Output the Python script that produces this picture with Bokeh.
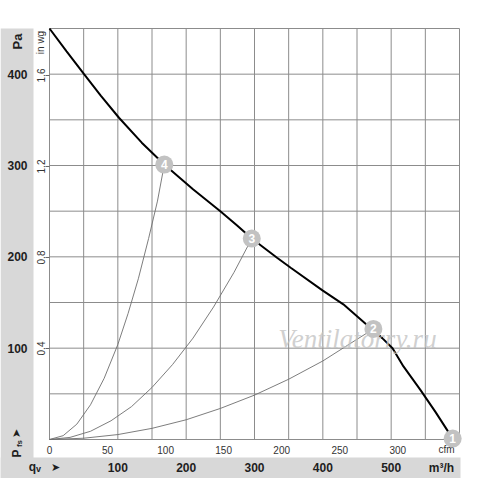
import math
from bokeh.plotting import figure
from bokeh.models import Range1d
from bokeh.core.properties import value
from bokeh.embed import file_html
from bokeh.resources import INLINE

# ---------------- data ----------------
# fan characteristic: flow in m3/h, static pressure in Pa
fan_q = [0, 25, 50, 75, 102, 135, 168, 210, 250, 275, 296, 333, 353, 400, 430, 473,
         487, 502, 518, 543, 565, 590]
fan_p = [450, 425, 400.5, 376.5, 352, 325, 301, 274, 250, 234, 220, 199, 188, 163, 148, 120,
         111, 100, 80, 54, 30, 1]

# system (throttle) curves through the operating points
sys4_q = [0, 20, 40, 60, 80, 100, 115, 130, 145, 158, 168]
sys4_p = [0, 4.2, 16.8, 38, 67, 104, 138, 176, 220, 261, 301]
sys3_q = [0, 30, 60, 90, 120, 150, 180, 210, 240, 270, 296]
sys3_p = [0, 2.3, 9, 20.5, 36, 57, 82, 111, 145, 183, 220]
sys2_q = [0, 50, 100, 150, 200, 250, 300, 350, 400, 440, 474]
sys2_p = [0, 1.4, 5.4, 12.2, 21.6, 34, 48.6, 66, 86, 105, 121]

# operating points
point_q = [590, 474, 296, 168]
point_p = [1, 121, 220, 301]
point_label = ["1", "2", "3", "4"]

# axes / ticks
grid_q = [0, 50, 100, 150, 200, 250, 300, 350, 400, 450, 500, 550, 600]
grid_p = [0, 50, 100, 150, 200, 250, 300, 350, 400, 450]
pa_ticks = [100, 200, 300, 400]
inwg_ticks = [0.4, 0.8, 1.2, 1.6]
cfm_ticks = [0, 50, 100, 150, 200, 250, 300]
m3h_ticks = [100, 200, 300, 400, 500]

PA_PER_INWG = 249.09
M3H_PER_CFM = 1.69901

# ---------------- layout helpers (picture pixels -> data) ----------------
SX = 410 / 600.0   # px per m3/h
SY = 411 / 450.0   # px per Pa
def qx(px):
    return (px - 49) / SX
def py(pyy):
    return (439 - pyy) / SY

p = figure(width=500, height=478,
           x_range=Range1d(qx(0), qx(500)), y_range=Range1d(py(478), py(0)),
           x_axis_type=None, y_axis_type=None,
           output_backend="svg", toolbar_location=None, min_border=0)
p.outline_line_color = None
p.background_fill_color = "white"
p.border_fill_color = "white"

GRAY = "#d8d8d8"
# grey label strips
p.quad(left=[qx(0)], right=[qx(33)], bottom=[py(478)], top=[py(28)],
       fill_color=GRAY, line_color=None)
p.quad(left=[qx(0)], right=[qx(460)], bottom=[py(478)], top=[py(457)],
       fill_color=GRAY, line_color=None)

# grid
GC = "#8c8c8c"
p.segment(x0=grid_q, x1=grid_q, y0=[grid_p[0]] * len(grid_q), y1=[grid_p[-1]] * len(grid_q),
          line_color=GC, line_width=1)
p.segment(x0=[grid_q[0]] * len(grid_p), x1=[grid_q[-1]] * len(grid_p), y0=grid_p, y1=grid_p,
          line_color=GC, line_width=1)

# in wg small ticks
inwg_pa = [v * PA_PER_INWG for v in inwg_ticks]
p.segment(x0=[qx(45)] * len(inwg_pa), x1=[0] * len(inwg_pa), y0=inwg_pa, y1=inwg_pa,
          line_color="#666666", line_width=1)

# system curves
for qs, ps in ((sys4_q, sys4_p), (sys3_q, sys3_p), (sys2_q, sys2_p)):
    p.line(qs, ps, line_color="#6e6e6e", line_width=0.9)

# fan curve
p.line(fan_q, fan_p, line_color="black", line_width=2)

# watermark
p.text(x=[qx(357)], y=[py(338)], text=["Ventilatorry.ru"], text_align="center",
       text_baseline="middle", text_font=value("Liberation Serif"),
       text_font_style="italic", text_font_size="27px", text_color="#c4c4c4", text_alpha=0.8)

FONT = value("Liberation Sans")
DARK = "#1e1e1e"

# cfm axis
cfm_q = [c * M3H_PER_CFM for c in cfm_ticks]
p.text(x=cfm_q, y=[0] * len(cfm_q), text=[str(c) for c in cfm_ticks], y_offset=10,
       text_align="center", text_baseline="middle", text_font=FONT, text_font_size="10px",
       text_color="#333333")
p.text(x=[qx(446)], y=[py(449)], text=["cfm"], text_align="center", text_baseline="middle",
       text_font=FONT, text_font_size="10px", text_color="#333333")

# operating points
p.scatter(point_q, point_p, size=18, fill_color="#c2c2c2", line_color=None)
p.text(x=point_q, y=point_p, text=point_label, text_align="center", text_baseline="middle",
       text_font=FONT, text_font_style="bold", text_font_size="12px", text_color="white")

# Pa axis (left strip)
p.text(x=[0] * len(pa_ticks), y=pa_ticks, text=[str(v) for v in pa_ticks], x_offset=-32,
       text_align="center", text_baseline="middle", text_font=FONT, text_font_style="bold",
       text_font_size="12px", text_color=DARK)
p.text(x=[qx(17)], y=[py(41)], text=["Pa"], angle=math.pi / 2, text_align="center",
       text_baseline="middle", text_font=FONT, text_font_style="bold", text_font_size="13px",
       text_color=DARK)

# in wg axis
p.text(x=[0] * len(inwg_pa), y=inwg_pa, text=[str(v) for v in inwg_ticks], x_offset=-9,
       angle=math.pi / 2, text_align="center", text_baseline="middle", text_font=FONT,
       text_font_size="10px", text_color="#333333")
p.text(x=[qx(40)], y=[py(42)], text=["in wg"], angle=math.pi / 2, text_align="center",
       text_baseline="middle", text_font=FONT, text_font_size="10px", text_color="#333333")

# m3/h axis (bottom strip)
p.text(x=m3h_ticks, y=[0] * len(m3h_ticks), text=[str(v) for v in m3h_ticks], y_offset=28,
       text_align="center", text_baseline="middle", text_font=FONT, text_font_style="bold",
       text_font_size="12px", text_color=DARK)
p.text(x=[qx(441)], y=[py(467)], text=["m³/h"], text_align="center", text_baseline="middle",
       text_font=FONT, text_font_style="bold", text_font_size="12px", text_color=DARK)
p.text(x=[qx(32)], y=[py(466)], text=["q"], text_align="center", text_baseline="middle",
       text_font=FONT, text_font_style="bold", text_font_size="12px", text_color=DARK)
p.text(x=[qx(38)], y=[py(468)], text=["v"], text_align="center", text_baseline="middle",
       text_font=FONT, text_font_style="bold", text_font_size="9px", text_color=DARK)
p.text(x=[qx(55)], y=[py(467)], text=["➤"], text_align="center", text_baseline="middle",
       text_font=value("DejaVu Sans"), text_font_size="11px", text_color=DARK)

# Pfs label (rotated, left strip)
p.text(x=[qx(16)], y=[py(453)], text=["P"], angle=math.pi / 2, text_align="center",
       text_baseline="middle", text_font=FONT, text_font_style="bold", text_font_size="12px",
       text_color=DARK)
p.text(x=[qx(19)], y=[py(443)], text=["fs"], angle=math.pi / 2, text_align="center",
       text_baseline="middle", text_font=FONT, text_font_style="bold", text_font_size="8px",
       text_color=DARK)
p.text(x=[qx(16)], y=[py(433)], text=["➤"], angle=math.pi / 2, text_align="center",
       text_baseline="middle", text_font=value("DejaVu Sans"), text_font_size="11px",
       text_color=DARK)

open("out.html", "w").write(file_html(p, INLINE))
